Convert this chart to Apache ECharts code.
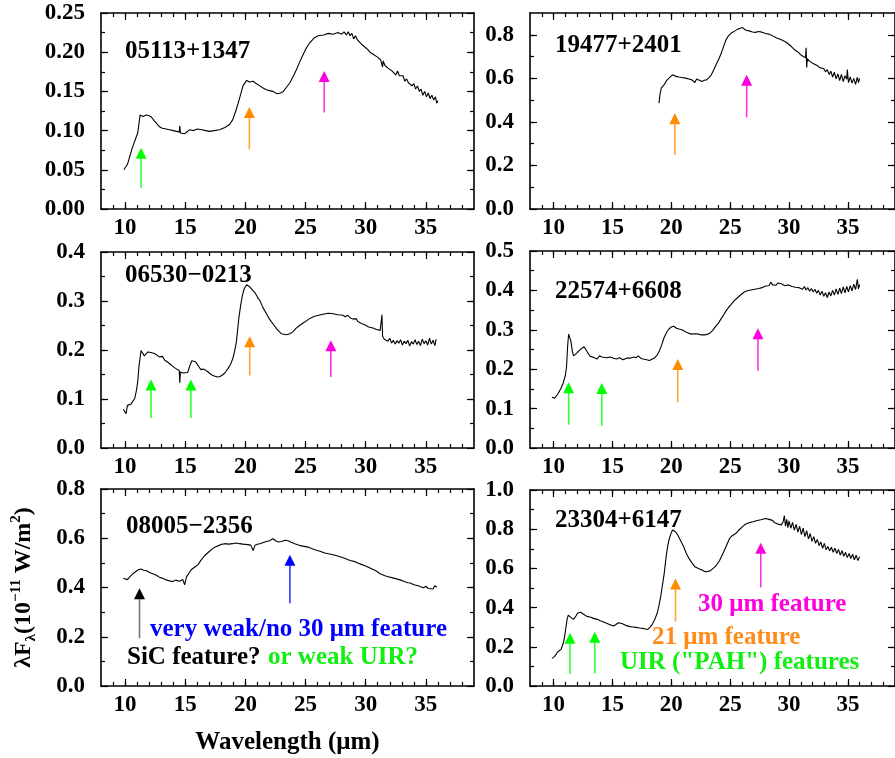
<!DOCTYPE html>
<html><head><meta charset="utf-8">
<script src="https://cdn.jsdelivr.net/npm/echarts@6/dist/echarts.min.js"></script>
<style>html,body{margin:0;padding:0;background:#fff}#c{width:895px;height:758px}</style>
</head><body><div id="c"></div>
<script>
// ---------------- DATA ----------------
const xLabels = [10, 15, 20, 25, 30, 35];

const p1_wl = [9.9,10.2,10.6,11.05,11.25,11.5,11.75,12.0,12.2,12.45,12.85,13.1,13.4,13.7,14.0,14.3,14.5,14.55,14.6,14.95,15.1,15.35,15.7,16.0,16.4,16.7,17.0,17.4,17.85,18.3,18.7,18.95,19.2,19.4,19.6,19.8,20.1,20.35,20.65,20.9,21.2,21.5,21.75,22.0,22.3,22.5,22.7,22.9,23.15,23.4,23.7,24.0,24.25,24.5,24.8,25.05,25.35,25.7,26.05,26.5,26.9,27.3,27.7,28.0,28.2,28.4,28.55,28.7,28.85,29.0,29.15,29.3,29.45,29.6,29.75,29.9,30.05,30.2,30.35,30.5,30.65,30.8,30.95,31.1,31.25,31.4,31.45,31.6,31.75,31.9,32.05,32.2,32.35,32.5,32.65,32.8,32.95,33.1,33.25,33.4,33.55,33.7,33.85,34.0,34.15,34.3,34.45,34.6,34.75,34.9,35.05,35.2,35.35,35.5,35.65,35.8,35.9,36.0];
const p1_fx = [.050,.057,.078,.097,.120,.118,.120,.119,.117,.112,.105,.103,.102,.101,.100,.099,.098,.106,.097,.096,.098,.101,.100,.102,.101,.100,.099,.100,.101,.104,.108,.114,.125,.135,.146,.157,.164,.162,.163,.160,.157,.154,.152,.151,.150,.148,.147,.148,.150,.155,.161,.170,.178,.187,.197,.205,.212,.218,.221,.222,.224,.223,.225,.223,.226,.222,.226,.221,.224,.217,.221,.216,.215,.211,.213,.207,.205,.203,.200,.201,.197,.198,.194,.192,.190,.181,.189,.183,.185,.179,.181,.176,.178,.171,.176,.170,.168,.170,.163,.166,.161,.163,.157,.160,.153,.157,.150,.153,.145,.150,.143,.148,.141,.145,.139,.143,.135,.138];
const p1_yLabels = [0, 0.05, 0.10, 0.15, 0.20, 0.25];
const p1_arrows = [[11.33,.027,.078,'uir'],[20.33,.076,.130,'f21'],[26.55,.123,.176,'f30']];

const p2_wl = [18.95,19.05,19.15,19.4,19.6,19.8,20.1,20.4,20.65,20.9,21.2,21.5,21.75,22.0,22.15,22.3,22.6,22.8,23.0,23.2,23.4,23.6,23.8,24.05,24.25,24.45,24.65,24.85,25.1,25.4,25.65,25.85,26.05,26.3,26.6,26.9,27.15,27.4,27.7,28.0,28.3,28.6,28.95,29.3,29.65,29.9,30.2,30.5,30.8,31.0,31.2,31.4,31.45,31.5,31.55,31.75,31.9,32.05,32.2,32.35,32.5,32.65,32.8,32.95,33.1,33.25,33.4,33.55,33.7,33.85,34.0,34.15,34.3,34.45,34.6,34.75,34.9,34.95,35.05,35.2,35.35,35.5,35.65,35.8,35.9,36.0];
const p2_fx = [.486,.530,.555,.571,.590,.601,.616,.609,.606,.604,.601,.597,.593,.581,.597,.593,.586,.591,.593,.603,.616,.638,.662,.690,.716,.748,.777,.795,.808,.818,.826,.830,.833,.822,.818,.813,.811,.815,.812,.806,.803,.795,.785,.778,.769,.760,.746,.730,.719,.708,.700,.695,.740,.650,.690,.678,.672,.668,.665,.660,.652,.648,.640,.645,.630,.640,.618,.633,.606,.628,.598,.620,.590,.618,.585,.612,.596,.640,.580,.607,.578,.600,.572,.605,.580,.600];
const p2_yLabels = [0, 0.2, 0.4, 0.6, 0.8];
const p2_arrows = [[20.3,.249,.44,'f21'],[26.4,.42,.616,'f30']];

const p3_wl = [9.86,10.0,10.08,10.2,10.35,10.5,10.8,10.95,11.05,11.15,11.2,11.33,11.45,11.6,11.75,11.9,12.0,12.15,12.3,12.45,12.6,12.85,13.0,13.1,13.3,13.5,13.7,13.9,14.1,14.3,14.5,14.55,14.6,14.8,14.95,15.2,15.4,15.55,15.7,15.85,16.05,16.3,16.5,16.75,16.95,17.15,17.4,17.7,17.9,18.15,18.35,18.55,18.75,18.95,19.1,19.25,19.35,19.45,19.6,19.75,19.9,20.1,20.25,20.4,20.6,20.8,21.0,21.2,21.45,21.75,21.95,22.15,22.4,22.6,22.8,23.0,23.2,23.4,23.7,23.95,24.2,24.5,24.8,25.1,25.4,25.75,26.1,26.45,26.9,27.3,27.7,28.1,28.3,28.5,28.7,28.95,29.2,29.35,29.5,29.65,29.8,29.95,30.1,30.25,30.4,30.6,30.75,30.9,31.05,31.2,31.35,31.4,31.55,31.7,31.85,32.0,32.15,32.3,32.45,32.6,32.75,32.9,33.05,33.2,33.35,33.5,33.65,33.8,33.95,34.1,34.25,34.4,34.55,34.7,34.85,35.0,35.15,35.3,35.45,35.6,35.75,35.85];
const p3_fx = [.079,.075,.070,.087,.086,.090,.101,.118,.135,.165,.175,.199,.196,.188,.189,.196,.199,.195,.199,.193,.192,.186,.183,.187,.179,.176,.172,.168,.164,.161,.158,.133,.155,.153,.152,.154,.169,.178,.181,.176,.169,.160,.161,.158,.154,.150,.147,.145,.146,.150,.155,.162,.170,.182,.197,.216,.240,.264,.290,.311,.325,.333,.332,.328,.322,.317,.308,.301,.287,.274,.265,.258,.250,.243,.238,.233,.232,.231,.233,.237,.244,.250,.255,.260,.265,.269,.271,.273,.275,.274,.272,.271,.268,.271,.266,.263,.264,.258,.260,.254,.257,.251,.254,.247,.250,.245,.248,.242,.245,.240,.272,.228,.222,.226,.218,.224,.214,.220,.212,.219,.214,.221,.210,.218,.213,.220,.208,.217,.212,.221,.211,.218,.209,.222,.213,.219,.210,.224,.212,.220,.209,.222];
const p3_yLabels = [0, 0.1, 0.2, 0.3, 0.4];
const p3_arrows = [[12.16,.061,.140,'uir'],[15.47,.061,.140,'uir'],[20.36,.148,.228,'f21'],[27.1,.145,.220,'f30']];

const p4_wl = [9.86,10.08,10.36,10.6,10.8,11.0,11.1,11.14,11.2,11.28,11.38,11.47,11.6,11.7,11.83,11.95,12.03,12.3,12.45,12.6,12.7,12.8,12.95,13.1,13.4,13.7,13.9,14.1,14.25,14.5,14.8,15.1,15.35,15.6,15.9,16.2,16.5,16.8,17.0,17.2,17.4,17.6,17.9,18.15,18.35,18.55,18.8,19.0,19.2,19.4,19.6,19.8,20.0,20.2,20.45,20.65,20.9,21.2,21.5,21.75,22.0,22.3,22.55,22.85,23.1,23.3,23.5,23.7,24.0,24.25,24.45,24.65,24.9,25.1,25.35,25.65,25.9,26.2,26.45,26.75,27.1,27.45,27.7,28.0,28.15,28.3,28.45,28.6,28.75,28.9,29.05,29.2,29.35,29.5,29.65,29.8,29.95,30.1,30.25,30.4,30.55,30.7,30.85,31.0,31.15,31.3,31.45,31.6,31.75,31.9,32.05,32.2,32.35,32.5,32.65,32.8,32.95,33.1,33.25,33.4,33.55,33.7,33.85,34.0,34.15,34.3,34.45,34.6,34.75,34.9,35.05,35.2,35.35,35.5,35.65,35.8,35.9,36.0];
const p4_fx = [.129,.126,.137,.150,.163,.184,.205,.226,.260,.289,.285,.272,.245,.234,.229,.240,.243,.251,.256,.257,.252,.247,.240,.233,.230,.226,.234,.231,.234,.229,.231,.228,.226,.229,.224,.228,.228,.231,.229,.234,.228,.226,.224,.222,.225,.228,.236,.247,.263,.281,.293,.302,.307,.309,.304,.302,.300,.295,.291,.289,.290,.289,.287,.287,.289,.292,.298,.306,.317,.329,.338,.348,.358,.365,.374,.382,.389,.396,.399,.401,.403,.405,.407,.411,.416,.412,.421,.414,.418,.413,.419,.414,.417,.420,.412,.417,.414,.418,.410,.414,.408,.413,.407,.412,.403,.410,.401,.407,.398,.405,.396,.403,.393,.400,.388,.398,.385,.394,.382,.396,.386,.400,.388,.404,.390,.406,.392,.409,.394,.410,.396,.412,.399,.416,.402,.428,.404,.415];
const p4_yLabels = [0, 0.1, 0.2, 0.3, 0.4, 0.5];
const p4_arrows = [[11.28,.059,.167,'uir'],[14.1,.056,.165,'uir'],[20.55,.116,.226,'f21'],[27.36,.196,.304,'f30']];

const p5_wl = [9.86,10.0,10.2,10.35,10.5,10.7,10.9,11.1,11.33,11.55,11.75,12.0,12.3,12.6,12.85,13.1,13.4,13.7,13.97,14.2,14.5,14.8,14.95,15.1,15.3,15.5,15.8,16.05,16.3,16.6,16.9,17.15,17.4,17.7,18.0,18.3,18.6,18.95,19.2,19.5,19.8,20.2,20.45,20.65,20.8,21.0,21.2,21.5,21.75,22.0,22.3,22.5,22.75,23.0,23.3,23.55,23.8,24.1,24.4,24.65,24.9,25.2,25.5,25.9,26.2,26.6,27.0,27.3,27.6,28.0,28.3,28.7,29.1,29.5,29.9,30.35,30.8,31.2,31.6,32.0,32.4,32.85,33.2,33.5,33.7,34.0,34.3,34.5,34.8,35.0,35.2,35.35,35.6,35.75,35.9];
const p5_fx = [.438,.430,.432,.441,.447,.458,.465,.472,.475,.470,.469,.462,.456,.450,.442,.438,.431,.427,.424,.430,.425,.432,.411,.442,.458,.472,.483,.492,.510,.529,.542,.553,.562,.569,.575,.578,.576,.578,.581,.578,.576,.574,.572,.550,.572,.576,.578,.583,.587,.590,.598,.590,.585,.587,.592,.590,.584,.578,.573,.569,.567,.564,.558,.551,.547,.540,.536,.533,.529,.523,.518,.510,.505,.496,.489,.479,.469,.456,.448,.442,.437,.431,.424,.419,.418,.411,.408,.404,.399,.405,.396,.401,.394,.408,.401];
const p5_yLabels = [0, 0.2, 0.4, 0.6, 0.8];
const p5_arrows = [[11.2,.194,.397,'sic'],[23.7,.336,.533,'weak']];

const p6_wl = [9.86,10.08,10.36,10.64,10.86,10.96,11.06,11.15,11.25,11.35,11.47,11.6,11.7,11.8,11.9,12.05,12.17,12.3,12.45,12.65,12.86,13.1,13.4,13.7,13.97,14.25,14.5,14.8,15.1,15.3,15.5,15.7,15.9,16.2,16.5,16.75,17.0,17.3,17.6,17.8,18.0,18.2,18.4,18.6,18.8,18.95,19.1,19.25,19.4,19.5,19.6,19.7,19.8,19.95,20.1,20.2,20.35,20.5,20.7,20.85,21.05,21.25,21.5,21.75,22.0,22.3,22.6,22.8,23.0,23.2,23.4,23.6,23.85,24.1,24.4,24.65,24.95,25.2,25.5,25.75,26.05,26.3,26.6,26.95,27.3,27.6,28.0,28.15,28.3,28.45,28.6,28.75,28.9,29.05,29.2,29.35,29.5,29.6,29.7,29.8,29.9,30.0,30.15,30.3,30.45,30.6,30.75,30.9,31.05,31.2,31.35,31.5,31.65,31.8,31.95,32.1,32.25,32.4,32.55,32.7,32.85,33.0,33.15,33.3,33.45,33.6,33.75,33.9,34.05,34.2,34.35,34.5,34.65,34.8,34.95,35.1,35.25,35.4,35.55,35.7,35.85,36.0];
const p6_fx = [.141,.150,.175,.187,.226,.260,.303,.340,.362,.360,.350,.342,.340,.350,.357,.372,.379,.376,.371,.362,.354,.352,.345,.340,.333,.327,.320,.313,.306,.314,.323,.320,.316,.308,.303,.301,.299,.296,.294,.291,.289,.300,.316,.340,.371,.410,.456,.515,.575,.627,.677,.715,.745,.775,.796,.800,.787,.775,.753,.735,.711,.680,.651,.628,.609,.600,.592,.585,.583,.586,.592,.603,.617,.640,.677,.712,.753,.768,.779,.796,.813,.825,.833,.838,.844,.848,.855,.846,.850,.840,.845,.834,.838,.826,.832,.822,.838,.870,.815,.850,.808,.842,.805,.835,.795,.825,.785,.815,.772,.805,.762,.792,.750,.778,.738,.762,.728,.748,.716,.735,.702,.728,.695,.712,.690,.708,.682,.703,.676,.697,.668,.690,.662,.682,.655,.676,.650,.672,.644,.668,.640,.660];
const p6_yLabels = [0, 0.2, 0.4, 0.6, 0.8, 1.0];
const p6_arrows = [[11.4,.061,.272,'uir'],[13.5,.065,.277,'uir'],[20.36,.328,.549,'f21'],[27.6,.503,.731,'f30']];

const panelNames = ['05113+1347','19477+2401','06530\u22120213','22574+6608','08005\u22122356','23304+6147'];

// ---------------- STYLE / LAYOUT ----------------
const FONT = '"Liberation Serif","Times New Roman",serif';
const COLORS = {uir:'#00ff00', f21:'#ff8c00', f30:'#ff00dd', sic:'#000000', weak:'#0000ff'};
const panels = [
  {wl:p1_wl, fx:p1_fx, ar:p1_arrows, yl:p1_yLabels, yMax:0.25, yMinor:0.025, dec:2, box:[101,13,373,196], nm:[125,53]},
  {wl:p2_wl, fx:p2_fx, ar:p2_arrows, yl:p2_yLabels, yMax:0.9, yMinor:0.1, dec:1, box:[530,13,372,196], nm:[555,47]},
  {wl:p3_wl, fx:p3_fx, ar:p3_arrows, yl:p3_yLabels, yMax:0.4, yMinor:0.05, dec:1, box:[101,252,373,196], nm:[125,277]},
  {wl:p4_wl, fx:p4_fx, ar:p4_arrows, yl:p4_yLabels, yMax:0.5, yMinor:0.05, dec:1, box:[530,251,372,197], nm:[555,293]},
  {wl:p5_wl, fx:p5_fx, ar:p5_arrows, yl:p5_yLabels, yMax:0.8, yMinor:0.1, dec:1, box:[101,489,373,197], nm:[126,528]},
  {wl:p6_wl, fx:p6_fx, ar:p6_arrows, yl:p6_yLabels, yMax:1.0, yMinor:0.1, dec:1, box:[530,490,372,196], nm:[555,522]}
];
const X_MIN = 8, X_MAX = 39;
const xMinor = []; for (let v = X_MIN + 1; v < X_MAX; v++) xMinor.push(v);

const grid = [], xAxis = [], yAxis = [], series = [], title = [];
const lineCol = '#000';
panels.forEach((p, i) => {
  grid.push({left:p.box[0], top:p.box[1], width:p.box[2], height:p.box[3]});
  const yMinorVals = [];
  for (let k = 1; k * p.yMinor < p.yMax - 1e-9; k++) yMinorVals.push(+(k * p.yMinor).toFixed(4));
  const base = {type:'value', gridIndex:i, min:X_MIN, max:X_MAX, splitLine:{show:false}};
  const mk = (pos, ticks, len, showLine, labels) => Object.assign({}, base, {
    position: pos,
    axisLine: {show: showLine, onZero: false, lineStyle: {color: lineCol, width: 1.6}},
    axisTick: {show: true, inside: true, customValues: ticks, length: len, lineStyle: {color: lineCol, width: 1.2}},
    axisLabel: labels ? {show: true, customValues: labels, margin: 8, color: '#000', fontFamily: FONT, fontWeight: 'bold', fontSize: 23, formatter: v => String(v)} : {show: false}
  });
  const xa = mk('bottom', xLabels, 7, true, xLabels);
  if (i === 4) {
    Object.assign(xa, {name: 'Wavelength (\u03bcm)', nameLocation: 'middle', nameGap: 44,
      nameTextStyle: {fontFamily: FONT, fontWeight: 'bold', fontSize: 25, color: '#000'}});
  }
  const xBase = xAxis.length;
  xAxis.push(xa, mk('bottom', xMinor, 4, false, null), mk('top', xLabels, 7, true, null), mk('top', xMinor, 4, false, null));

  const ybase = {type:'value', gridIndex:i, min:0, max:p.yMax, splitLine:{show:false}};
  const mky = (pos, ticks, len, showLine, labels) => Object.assign({}, ybase, {
    position: pos,
    axisLine: {show: showLine, onZero: false, lineStyle: {color: lineCol, width: 1.6}},
    axisTick: {show: true, inside: true, customValues: ticks, length: len, lineStyle: {color: lineCol, width: 1.2}},
    axisLabel: labels ? {show: true, customValues: labels, margin: 16, color: '#000', fontFamily: FONT, fontWeight: 'bold', fontSize: 23, formatter: v => v.toFixed(p.dec)} : {show: false}
  });
  const ya = mky('left', p.yl, 7, true, p.yl);
  if (i === 4) {
    Object.assign(ya, {name: '{a|\u03bbF}{sub|\u03bb}{a|(10}{sup|\u221211}{a| W/m}{sup|2}{a|)}', nameLocation: 'middle', nameGap: 62,
      nameTextStyle: {fontFamily: FONT, fontWeight: 'bold', fontSize: 24, color: '#000',
        rich: {
          a: {fontFamily: FONT, fontWeight: 'bold', fontSize: 24, color: '#000', lineHeight: 30, verticalAlign: 'middle'},
          sub: {fontFamily: FONT, fontWeight: 'bold', fontSize: 15, color: '#000', lineHeight: 30, verticalAlign: 'bottom'},
          sup: {fontFamily: FONT, fontWeight: 'bold', fontSize: 15, color: '#000', lineHeight: 30, verticalAlign: 'top'}
        }}});
  }
  const yBase = yAxis.length;
  yAxis.push(ya, mky('left', yMinorVals, 4, false, null), mky('right', p.yl, 7, true, null), mky('right', yMinorVals, 4, false, null));

  series.push({
    type: 'line', xAxisIndex: xBase, yAxisIndex: yBase, symbol: 'none', silent: true,
    lineStyle: {color: '#000', width: 1.1}, z: 3,
    data: p.wl.map((w, k) => [w, p.fx[k]])
  });
  series.push({
    type: 'custom', xAxisIndex: xBase, yAxisIndex: yBase, silent: true, z: 4,
    encode: {x: 0, y: [1, 2]},
    data: p.ar.map(a => ({value: [a[0], a[1], a[2]], itemStyle: {color: COLORS[a[3]]}})),
    renderItem: (params, api) => {
      const pb = api.coord([api.value(0), api.value(1)]);
      const pt = api.coord([api.value(0), api.value(2)]);
      const col = api.visual('color');
      const shaftCol = col === '#000000' ? '#555' : col;
      return {type: 'group', children: [
        {type: 'line', shape: {x1: pb[0], y1: pb[1], x2: pt[0], y2: pt[1] + 9}, style: {stroke: shaftCol, lineWidth: 1.6, opacity: 0.8}},
        {type: 'polygon', shape: {points: [[pt[0], pt[1]], [pt[0] - 5.5, pt[1] + 11], [pt[0] + 5.5, pt[1] + 11]]}, style: {fill: col}}
      ]};
    }
  });
  title.push({text: panelNames[i], left: p.nm[0], top: p.nm[1] - 14, padding: 0,
    textStyle: {fontFamily: FONT, fontWeight: 'bold', fontSize: 25, color: '#000'}});
});

const annFont = 'bold 25px ' + FONT;
const ann = (text, x, y, fill) => ({type: 'text', x: x, y: y, silent: true, z: 10,
  style: {text: text, fill: fill, font: annFont, align: 'left', verticalAlign: 'middle'}});
const graphic = [
  ann('very weak/no 30 \u03bcm feature', 150, 630, COLORS.weak),
  ann('SiC feature?', 127, 658, '#000'),
  ann('or weak UIR?', 268, 658, '#11ee11'),
  ann('30 \u03bcm feature', 698, 605, COLORS.f30),
  ann('21 \u03bcm feature', 652, 638, '#ff8c1a'),
  ann('UIR ("PAH") features', 620, 663, '#11ee11')
];

const chart = echarts.init(document.getElementById('c'), null, {renderer: 'canvas'});
chart.setOption({animation: false, backgroundColor: '#fff', title, grid, xAxis, yAxis, series, graphic});
</script>
</body></html>
